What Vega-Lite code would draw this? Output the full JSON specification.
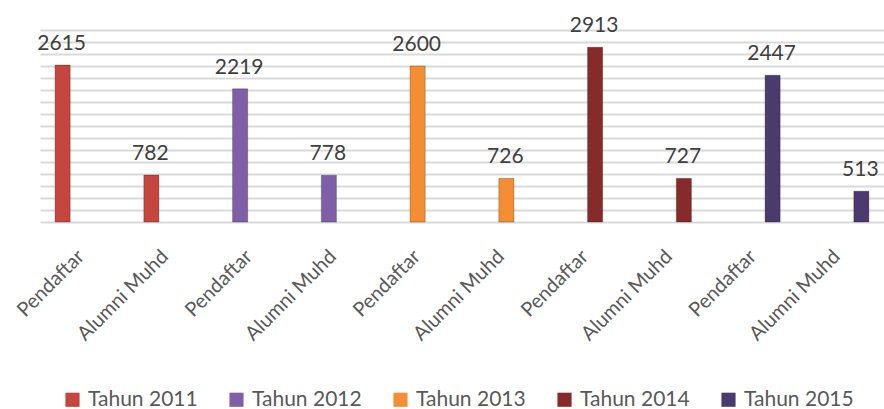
{
  "$schema": "https://vega.github.io/schema/vega-lite/v6.json",
  "width": 844,
  "height": 192,
  "autosize": {"type": "none"},
  "padding": {"left": 40, "top": 30, "right": 0, "bottom": 187},
  "background": "white",
  "config": {
    "view": {"stroke": null},
    "font": "Lato"
  },
  "data": {
    "values": [
      {"id": "2011|Pendaftar", "tahun": "Tahun 2011", "kategori": "Pendaftar", "jumlah": 2615},
      {"id": "2011|Alumni Muhd", "tahun": "Tahun 2011", "kategori": "Alumni Muhd", "jumlah": 782},
      {"id": "2012|Pendaftar", "tahun": "Tahun 2012", "kategori": "Pendaftar", "jumlah": 2219},
      {"id": "2012|Alumni Muhd", "tahun": "Tahun 2012", "kategori": "Alumni Muhd", "jumlah": 778},
      {"id": "2013|Pendaftar", "tahun": "Tahun 2013", "kategori": "Pendaftar", "jumlah": 2600},
      {"id": "2013|Alumni Muhd", "tahun": "Tahun 2013", "kategori": "Alumni Muhd", "jumlah": 726},
      {"id": "2014|Pendaftar", "tahun": "Tahun 2014", "kategori": "Pendaftar", "jumlah": 2913},
      {"id": "2014|Alumni Muhd", "tahun": "Tahun 2014", "kategori": "Alumni Muhd", "jumlah": 727},
      {"id": "2015|Pendaftar", "tahun": "Tahun 2015", "kategori": "Pendaftar", "jumlah": 2447},
      {"id": "2015|Alumni Muhd", "tahun": "Tahun 2015", "kategori": "Alumni Muhd", "jumlah": 513}
    ]
  },
  "encoding": {
    "y": {
      "field": "jumlah",
      "type": "quantitative",
      "scale": {"domain": [0, 3200], "nice": false},
      "axis": {
        "title": null,
        "domain": false,
        "ticks": false,
        "labels": false,
        "grid": true,
        "gridColor": "#d9d9d9",
        "gridWidth": 2,
        "values": [0, 200, 400, 600, 800, 1000, 1200, 1400, 1600, 1800, 2000, 2200, 2400, 2600, 2800, 3000, 3200]
      }
    }
  },
  "layer": [
    {
      "mark": {"type": "bar", "opacity": 0},
      "encoding": {
        "x": {
          "field": "id",
          "type": "nominal",
          "sort": null,
          "scale": {"paddingInner": 0.5, "paddingOuter": 0.274},
          "axis": {
            "title": null,
            "domain": false,
            "ticks": false,
            "grid": false,
            "labelExpr": "split(datum.label, '|')[1]",
            "labelAngle": -45,
            "labelAlign": "right",
            "labelBaseline": "top",
            "labelFontSize": 20,
            "labelColor": "#595959",
            "labelPadding": 24,
            "labelOffset": -10,
            "labelFont": "Lato"
          }
        }
      }
    },
    {
      "encoding": {
        "x": {
          "field": "id",
          "type": "nominal",
          "sort": null,
          "scale": {"paddingInner": 0.83, "paddingOuter": 0.17},
          "axis": null
        }
      },
      "layer": [
        {
          "mark": {"type": "bar", "stroke": "#000000", "strokeOpacity": 0.25, "strokeWidth": 1},
          "encoding": {
            "color": {
              "field": "tahun",
              "type": "nominal",
              "scale": {
                "domain": ["Tahun 2011", "Tahun 2012", "Tahun 2013", "Tahun 2014", "Tahun 2015"],
                "range": ["#C4463F", "#7E5FA8", "#F58E33", "#862B29", "#4B3A6E"]
              },
              "legend": {
                "title": null,
                "orient": "none",
                "legendX": 22,
                "legendY": 359,
                "direction": "horizontal",
                "columns": 5,
                "symbolType": "square",
                "symbolSize": 200,
                "symbolStrokeWidth": 0,
                "labelFontSize": 21,
                "labelColor": "#595959",
                "labelFont": "Lato",
                "columnPadding": 28,
                "labelOffset": 5
              }
            }
          }
        },
        {
          "mark": {"type": "text", "baseline": "alphabetic", "dy": -15, "dx": -1, "fontSize": 21, "color": "#404040", "font": "Lato"},
          "encoding": {
            "text": {"field": "jumlah", "type": "quantitative"}
          }
        }
      ]
    }
  ],
  "resolve": {"scale": {"x": "independent"}, "axis": {"x": "independent"}}
}
